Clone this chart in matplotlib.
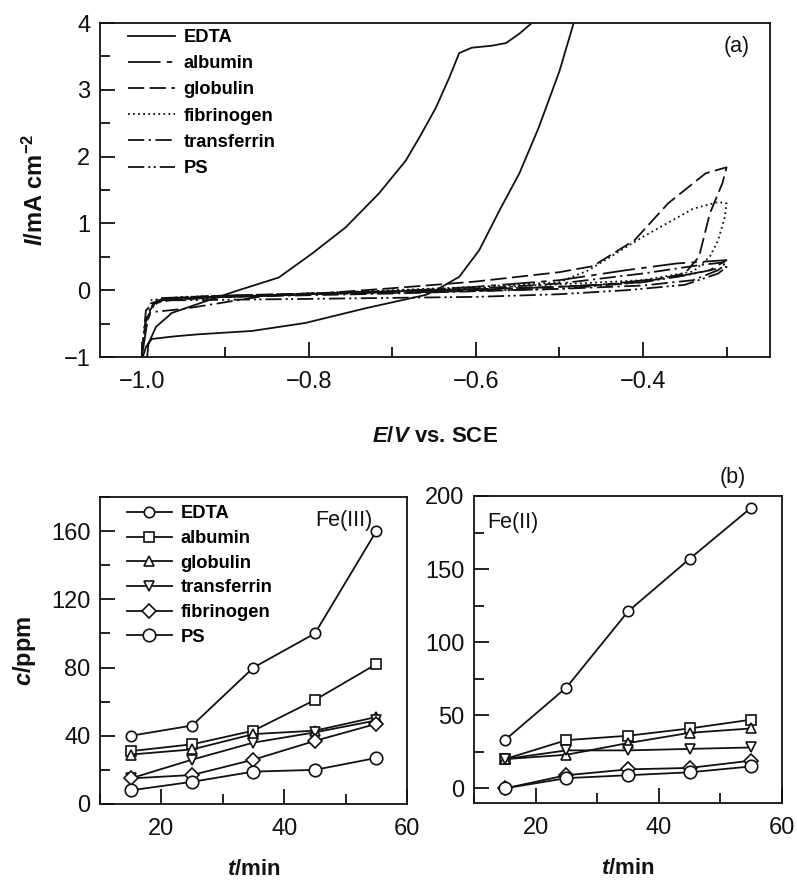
import matplotlib
matplotlib.use("Agg")
import matplotlib.pyplot as plt
from matplotlib.ticker import MultipleLocator

plt.rcParams['font.family'] = ['Liberation Sans', 'DejaVu Sans']
plt.rcParams['mathtext.fontset'] = 'custom'
plt.rcParams['mathtext.rm'] = 'Liberation Sans:bold'
plt.rcParams['mathtext.it'] = 'Liberation Sans:italic:bold'
plt.rcParams['mathtext.bf'] = 'Liberation Sans:bold'
plt.rcParams['axes.linewidth'] = 1.3

# ---------------- panel (a): cyclic voltammograms ----------------
edta_E = [-1.0, -0.995, -0.988, -0.96, -0.932, -0.868, -0.804, -0.732, -0.66, -0.648, -0.62,
          -0.596, -0.572, -0.548, -0.525, -0.50, -0.483, -0.475,
          -0.53, -0.534, -0.548, -0.564, -0.581, -0.605, -0.620, -0.632, -0.648, -0.668,
          -0.684, -0.716, -0.756, -0.796, -0.836, -0.884, -0.92, -0.964, -0.983, -0.992, -0.994]
edta_I = [-1.05, -0.85, -0.73, -0.69, -0.66, -0.61, -0.49, -0.27, -0.07, 0.0, 0.2,
          0.6, 1.19, 1.75, 2.43, 3.28, 4.0, 4.3,
          4.3, 3.99, 3.84, 3.70, 3.66, 3.63, 3.55, 3.18, 2.73, 2.28,
          1.94, 1.45, 0.94, 0.55, 0.19, 0.0, -0.15, -0.34, -0.55, -0.8, -1.05]

albumin_E = [-1.0, -0.993, -0.985, -0.97, -0.9, -0.8, -0.7, -0.6, -0.5, -0.42, -0.36, -0.30,
             -0.32, -0.36, -0.45, -0.6, -0.8, -0.95, -0.99]
albumin_I = [-1.0, -0.45, -0.2, -0.13, -0.1, -0.06, -0.02, 0.05, 0.15, 0.3, 0.4, 0.45,
             0.3, 0.2, 0.08, 0.0, -0.06, -0.12, -0.2]

globulin_E = [-1.0, -0.995, -0.985, -0.97, -0.9, -0.8, -0.7, -0.6, -0.5, -0.46, -0.41, -0.37,
              -0.325, -0.30, -0.305, -0.32, -0.333, -0.35, -0.4, -0.5, -0.7, -0.9, -0.97, -0.99]
globulin_I = [-0.95, -0.4, -0.2, -0.15, -0.1, -0.06, 0.03, 0.13, 0.27, 0.36, 0.75, 1.3,
              1.75, 1.84, 1.6, 1.15, 0.5, 0.25, 0.12, 0.05, -0.02, -0.08, -0.12, -0.2]

fibrinogen_E = [-1.0, -0.99, -0.97, -0.8, -0.6, -0.5, -0.465, -0.40, -0.34, -0.31, -0.30,
                -0.302, -0.31, -0.32, -0.34, -0.4, -0.48, -0.6, -0.8, -0.95, -0.99]
fibrinogen_I = [-0.9, -0.25, -0.12, -0.05, 0.05, 0.12, 0.3, 0.8, 1.22, 1.32, 1.3,
                1.1, 0.75, 0.5, 0.28, 0.15, 0.1, 0.03, -0.05, -0.1, -0.15]

transferrin_E = [-1.0, -0.995, -0.99, -0.95, -0.9, -0.85, -0.8, -0.6, -0.5, -0.4, -0.33, -0.30,
                 -0.31, -0.34, -0.4, -0.5, -0.7, -0.9, -0.98]
transferrin_I = [-0.95, -0.45, -0.33, -0.28, -0.18, -0.08, -0.05, 0.02, 0.1, 0.25, 0.38, 0.42,
                 0.3, 0.15, 0.07, 0.02, -0.05, -0.1, -0.15]

ps_E = [-1.0, -0.995, -0.98, -0.9, -0.7, -0.5, -0.4, -0.35, -0.30,
        -0.31, -0.35, -0.42, -0.5, -0.6, -0.8, -0.95, -0.98]
ps_I = [-0.95, -0.3, -0.12, -0.08, -0.04, 0.02, 0.12, 0.22, 0.35,
        0.25, 0.08, 0.0, -0.06, -0.1, -0.13, -0.15, -0.15]

cv_labels = ['EDTA', 'albumin', 'globulin', 'fibrinogen', 'transferrin', 'PS']

# ---------------- panel (b): dissolved iron ----------------
t_min = [15, 25, 35, 45, 55]
series_labels = ['EDTA', 'albumin', 'globulin', 'transferrin', 'fibrinogen', 'PS']
fe3 = {
    'EDTA':        [40, 46, 80, 100, 160],
    'albumin':     [31, 35, 43, 61, 82],
    'globulin':    [29, 32, 41, 43, 51],
    'transferrin': [15, 26, 36, 42, 49],
    'fibrinogen':  [15, 17, 26, 37, 47],
    'PS':          [8, 13, 19, 20, 27],
}
fe2 = {
    'EDTA':        [33, 69, 121, 157, 192],
    'albumin':     [20, 33, 36, 41, 47],
    'globulin':    [20, 23, 31, 38, 41],
    'transferrin': [20, 26, 26, 27, 28],
    'fibrinogen':  [0, 9, 13, 14, 19],
    'PS':          [0, 7, 9, 11, 15],
}

ink = '#111111'
W, H = 797, 884
fig = plt.figure(figsize=(W / 100, H / 100), dpi=100)

TICK_FS = 17
LAB_FS = 16
LEG_FS = 13.2

def ax_px(l, t, r, b):
    return fig.add_axes([l / W, 1 - b / H, (r - l) / W, (b - t) / H])

def style(ax, maj_len=11, min_len=7):
    ax.tick_params(which='both', direction='in', top=False, right=False,
                   labelsize=TICK_FS, width=1.3, colors=ink)
    ax.tick_params(which='major', length=maj_len)
    ax.tick_params(which='minor', length=min_len)
    ax.tick_params(axis='x', pad=10)
    ax.tick_params(axis='y', pad=7)
    for s in ax.spines.values():
        s.set_color(ink)

# ---- top panel
axa = ax_px(100, 23, 770, 357)
lw = 1.3
styles = {
    'EDTA': '-',
    'albumin': (0, (18, 3.5, 3, 3.5)),
    'globulin': (0, (9, 3)),
    'fibrinogen': (0, (1, 1.8)),
    'transferrin': (0, (9, 2.5, 1.2, 2.5)),
    'PS': (0, (9, 2.2, 1.2, 1.8, 1.2, 2.2)),
}
data_a = {
    'EDTA': (edta_E, edta_I),
    'albumin': (albumin_E, albumin_I),
    'globulin': (globulin_E, globulin_I),
    'fibrinogen': (fibrinogen_E, fibrinogen_I),
    'transferrin': (transferrin_E, transferrin_I),
    'PS': (ps_E, ps_I),
}
for name in cv_labels:
    E, I = data_a[name]
    axa.plot(E, I, color=ink, lw=lw, linestyle=styles[name], label=name)
axa.set_xlim(-1.05, -0.248)
axa.set_ylim(-1, 4)
axa.xaxis.set_minor_locator(MultipleLocator(0.1))
axa.yaxis.set_minor_locator(MultipleLocator(0.5))
axa.set_xticks([-1.0, -0.8, -0.6, -0.4])
axa.set_xticklabels(['\u22121.0', '\u22120.8', '\u22120.6', '\u22120.4'])
axa.set_yticks([-1, 0, 1, 2, 3, 4])
axa.set_yticklabels(['\u22121', '0', '1', '2', '3', '4'])
style(axa)
axa.set_ylabel(r'$\mathit{I}$/mA cm$^{-2}$', fontsize=17, fontweight='bold', labelpad=11, color=ink)
axa.set_xlabel(r'$\mathit{E}$/$\mathit{V}$ vs. SCE', fontsize=LAB_FS, fontweight='bold', labelpad=24, color=ink)
axa.text(0.95, 0.93, '(a)', transform=axa.transAxes, ha='center', va='center', fontsize=15.5, color=ink)
axa.legend(loc='upper left', bbox_to_anchor=(0.022, 1.02), frameon=False,
           prop={'size': LEG_FS, 'weight': 'bold'},
           handlelength=2.6, handletextpad=0.45, labelspacing=0.5, borderpad=0.2)

# ---- bottom panels
markers = {'EDTA': ('o', 7.5), 'albumin': ('s', 7.5), 'globulin': ('^', 7.5),
           'transferrin': ('v', 7.5), 'fibrinogen': ('D', 7), 'PS': ('o', 9)}

axb1 = ax_px(100, 497, 407, 804)
for name in series_labels:
    m, ms = markers[name]
    axb1.plot(t_min, fe3[name], color=ink, lw=1.3, marker=m, ms=ms, mfc='white',
              mec=ink, mew=1.2, label=name)
axb1.set_xlim(10, 60)
axb1.set_ylim(0, 180)
axb1.xaxis.set_major_locator(MultipleLocator(20))
axb1.xaxis.set_minor_locator(MultipleLocator(10))
axb1.yaxis.set_minor_locator(MultipleLocator(20))
axb1.set_yticks([0, 40, 80, 120, 160])
style(axb1)
axb1.set_ylabel(r'$\mathit{c}$/ppm', fontsize=17, fontweight='bold', labelpad=9, color=ink)
axb1.set_xlabel(r'$\mathit{t}$/min', fontsize=LAB_FS, fontweight='bold', labelpad=14, color=ink)
axb1.text(0.886, 0.925, 'Fe(III)', transform=axb1.transAxes, ha='right', va='center', fontsize=15.5, color=ink)
axb1.legend(loc='upper left', bbox_to_anchor=(0.045, 1.015), frameon=False,
            prop={'size': LEG_FS, 'weight': 'bold'},
            handlelength=2.45, handletextpad=0.5, labelspacing=0.42, borderpad=0.2)

axb2 = ax_px(474, 496, 782, 803)
for name in series_labels:
    m, ms = markers[name]
    axb2.plot(t_min, fe2[name], color=ink, lw=1.3, marker=m, ms=ms, mfc='white',
              mec=ink, mew=1.2, label=name)
axb2.set_xlim(10, 60)
axb2.set_ylim(-10, 200)
axb2.xaxis.set_major_locator(MultipleLocator(20))
axb2.xaxis.set_minor_locator(MultipleLocator(10))
axb2.set_yticks([0, 50, 100, 150, 200])
axb2.yaxis.set_minor_locator(MultipleLocator(25))
style(axb2)
axb2.set_xlabel(r'$\mathit{t}$/min', fontsize=LAB_FS, fontweight='bold', labelpad=14, color=ink)
axb2.text(0.042, 0.915, 'Fe(II)', transform=axb2.transAxes, ha='left', va='center', fontsize=15.5, color=ink)
fig.text(733 / W, 1 - 477 / H, '(b)', ha='center', va='center', fontsize=15.5, color=ink)

fig.savefig('out.png', dpi=100)
